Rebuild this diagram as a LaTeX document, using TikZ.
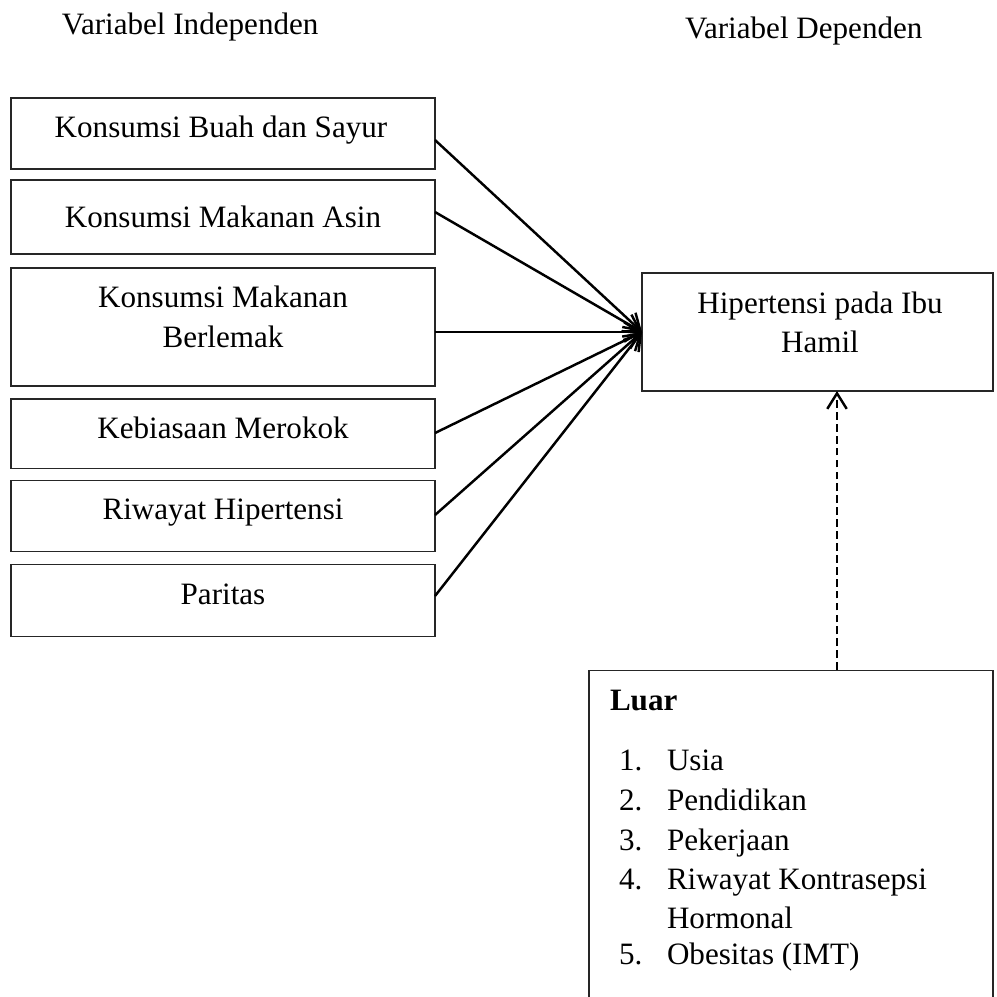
\documentclass[tikz,border=0pt]{standalone}
\usepackage{fontspec}
\setmainfont{Liberation Serif}
\usetikzlibrary{arrows.meta}
\begin{document}
\begin{tikzpicture}[x=0.3859pt,y=-0.3859pt,
  every node/.style={font=\fontsize{12pt}{14pt}\selectfont, inner sep=0pt, outer sep=0pt},
  box/.style={draw=black!85, line width=0.4pt, rectangle, minimum width=424*0.3859pt},
  lbl/.style={anchor=base},
  lw/.style={anchor=base west},
  link/.style={line width=0.95pt, -{Straight Barb[length=6pt,width=7.5pt]}},
  dlink/.style={line width=0.95pt, dash pattern=on 3pt off 1.6pt, -{Straight Barb[length=6pt,width=7.5pt]}}]
\useasboundingbox (0,0) rectangle (997,996);
\clip (0,0) rectangle (997,996);

% headers
\node[lw] (hdi) at (62,34) {Variabel Independen};
\node[lw] (hdd) at (685,38) {Variabel Dependen};

% left boxes
\node[box, minimum height=71*0.3859pt] (b1) at (223,133.5) {};
\node[lbl] (t1) at (221,137) {Konsumsi Buah dan Sayur};
\node[box, minimum height=74*0.3859pt] (b2) at (223,217) {};
\node[lbl] (t2) at (223,227) {Konsumsi Makanan Asin};
\node[box, minimum height=118*0.3859pt] (b3) at (223,327) {};
\node[lbl] (t3a) at (223,307) {Konsumsi Makanan};
\node[lbl] (t3b) at (223,347) {Berlemak};
\node[box, minimum height=69*0.3859pt] (b4) at (223,433.5) {};
\node[lbl] (t4) at (223,438) {Kebiasaan Merokok};
\node[box, minimum height=71*0.3859pt] (b5) at (223,515.5) {};
\node[lbl] (t5) at (223,519) {Riwayat Hipertensi};
\node[box, minimum height=72*0.3859pt] (b6) at (223,600) {};
\node[lbl] (t6) at (223,604) {Paritas};

% dependent box
\node[box, minimum width=351*0.3859pt, minimum height=118*0.3859pt] (hip) at (817.5,332) {};
\node[lbl] (th1) at (820,313) {Hipertensi pada Ibu};
\node[lbl] (th2) at (820,352) {Hamil};

% outside factors box (bottom edge falls below the page)
\node[box, minimum width=404*0.3859pt, minimum height=360*0.3859pt, anchor=north west] (luar) at (589,670) {};
\node[lw, font=\fontsize{12pt}{14pt}\selectfont\bfseries] (tl) at (610,710) {Luar};
\node[lw] (n1) at (619,770) {1.};
\node[lw] (l1) at (667,770) {Usia};
\node[lw] (n2) at (619,810) {2.};
\node[lw] (l2) at (667,810) {Pendidikan};
\node[lw] (n3) at (619,850) {3.};
\node[lw] (l3) at (667,850) {Pekerjaan};
\node[lw] (n4) at (619,889) {4.};
\node[lw] (l4) at (667,889) {Riwayat Kontrasepsi};
\node[lw] (l4b) at (667,928) {Hormonal};
\node[lw] (n5) at (619,964) {5.};
\node[lw] (l5) at (667,964) {Obesitas (IMT)};

% connectors
\coordinate (c1) at (435,140);
\coordinate (c2) at (435,212);
\coordinate (c3) at (435,332);
\coordinate (c4) at (435,433);
\coordinate (c5) at (435,515);
\coordinate (c6) at (435,596);
\draw[link] (c1) -- (hip.west);
\draw[link] (c2) -- (hip.west);
\draw[link] (c3) -- (hip.west);
\draw[link] (c4) -- (hip.west);
\draw[link] (c5) -- (hip.west);
\draw[link] (c6) -- (hip.west);

\coordinate (dx) at (837,0);
\draw[dlink] (luar.north -| dx) -- (hip.south -| dx);
\end{tikzpicture}
\end{document}
